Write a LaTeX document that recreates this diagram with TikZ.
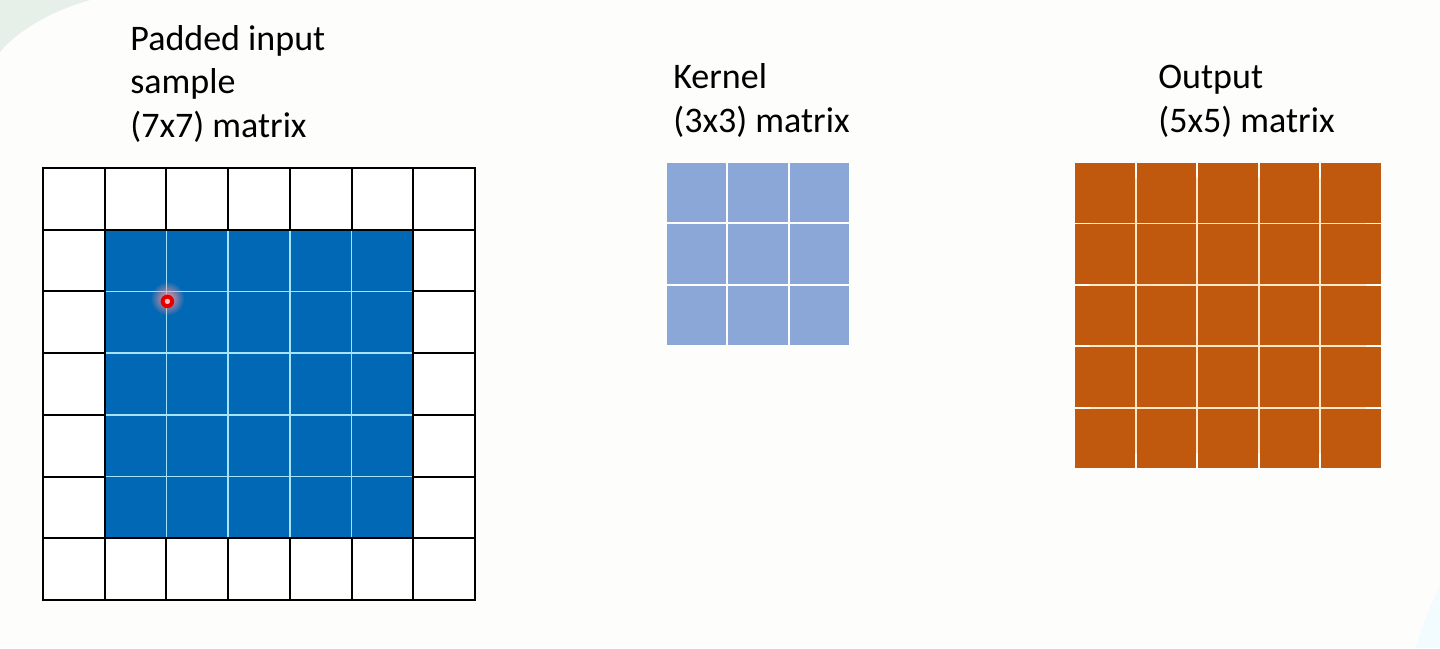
\documentclass[tikz,border=0pt]{standalone}
\usepackage{fontspec}
\setmainfont{Carlito}
\usetikzlibrary{positioning,fadings}
\definecolor{paper}{RGB}{253,253,252}
\definecolor{padblue}{RGB}{0,104,181}
\definecolor{kernblue}{RGB}{138,167,215}
\definecolor{outorange}{RGB}{192,89,14}
\definecolor{gridcyan}{RGB}{165,228,252}
\definecolor{gridcream}{RGB}{255,232,200}
\definecolor{swoosh}{RGB}{230,239,232}
\tikzfading[name=glow,inner color=transparent!0,outer color=transparent!100]

\begin{document}
\begin{tikzpicture}[x=0.5pt,y=-0.5pt,
    cell/.style={minimum size=30.85pt,inner sep=0pt,outer sep=0pt},
    padcell/.style={cell,draw=black,line width=1pt,fill=white},
    incell/.style={cell,fill=padblue,draw=gridcyan,line width=0.7pt},
    kcell/.style={cell,minimum size=29.7pt,fill=kernblue},
    ocell/.style={cell,minimum size=29.8pt,fill=outorange},
    caption/.style={align=left,anchor=base west,inner sep=0pt,
      font=\fontsize{18}{21.7}\selectfont}]
  \useasboundingbox (0,0) rectangle (1440,648);
  \fill[paper] (0,0) rectangle (1440,648);
  \fill[swoosh] (0,0) -- (90,0) .. controls (55,10) and (20,28) .. (0,52) -- cycle; % slide corner
  \fill[cyan!5] (1440,585) .. controls (1428,612) and (1420,632) .. (1416,648) -- (1440,648) -- cycle;
  % padded input 7x7
  \foreach \i in {0,...,6}
    \foreach \j in {0,...,6}
      \node[padcell] (pad-\i-\j) at ({43+61.7*(\j+0.5)},{168+61.7*(\i+0.5)}) {};
  \foreach \i in {1,...,5}
    \foreach \j in {1,...,5}
      \node[incell] (in-\i-\j) at (pad-\i-\j) {};
  \draw[line width=1pt] (in-1-1.north west) rectangle (in-5-5.south east);
  % red pointer
  \coordinate (dot) at ([shift={(1,10)}]in-1-1.south east);
  \fill[red!40!white,path fading=glow] ([shift={(0,-3)}]dot) circle (17);
  \fill[red!90!black,even odd rule] (dot) circle (6.8) (dot) circle (2.6);
  \fill[red!25!white] (dot) circle (2.6);
  % kernel 3x3
  \foreach \i in {0,...,2}
    \foreach \j in {0,...,2}
      \node[kcell] (ker-\i-\j) at ({666+61.4*(\j+0.5)},{162+61.4*(\i+0.5)}) {};
  % output 5x5
  \fill[gridcream] (1090,178) rectangle (1366,453);
  \foreach \i in {0,...,4}
    \foreach \j in {0,...,4}
      \node[ocell] (out-\i-\j) at ({1074+61.6*(\j+0.5)},{162+61.4*(\i+0.5)}) {};
  % captions
  \node[caption] (cap-pad) at (130,137) {Padded input\\sample\\(7x7) matrix};
  \node[caption] (cap-ker) at (673,132) {Kernel\\(3x3) matrix};
  \node[caption] (cap-out) at (1158,132) {Output\\(5x5) matrix};
\end{tikzpicture}
\end{document}
